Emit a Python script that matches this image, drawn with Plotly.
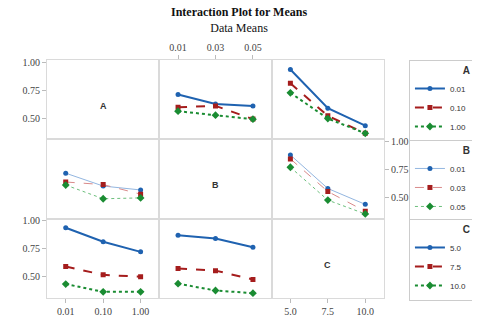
import plotly.graph_objects as go
from plotly.subplots import make_subplots

# factor levels
A_levels = ["0.01", "0.10", "1.00"]
B_levels = ["0.01", "0.03", "0.05"]
C_levels = ["5.0", "7.5", "10.0"]

# row 1: lines = A levels
A_vs_B = [[0.712, 0.626, 0.609], [0.597, 0.609, 0.491], [0.562, 0.526, 0.490]]
A_vs_C = [[0.935, 0.588, 0.432], [0.812, 0.520, 0.364], [0.726, 0.496, 0.364]]
# row 2: lines = B levels
B_vs_A = [[0.717, 0.602, 0.567], [0.638, 0.615, 0.529], [0.611, 0.488, 0.496]]
B_vs_C = [[0.880, 0.580, 0.438], [0.845, 0.553, 0.376], [0.770, 0.476, 0.352]]
# row 3: lines = C levels
C_vs_A = [[0.939, 0.814, 0.723], [0.592, 0.517, 0.500], [0.435, 0.365, 0.365]]
C_vs_B = [[0.872, 0.843, 0.764], [0.575, 0.555, 0.476], [0.438, 0.377, 0.353]]

colors = ["#1f62b0", "#a51d1d", "#1a8c32"]
light = ["#93b6e0", "#d98a8a", "#6cbf7c"]
dashes = ["solid", "dash", "dot"]
symbols = ["circle", "square", "diamond"]

fig = make_subplots(rows=3, cols=3, horizontal_spacing=0, vertical_spacing=0)

panels = [
    # (row, col, data, line levels, x levels, legend, thin)
    (1, 2, A_vs_B, A_levels, B_levels, "legend", False),
    (1, 3, A_vs_C, A_levels, C_levels, None, False),
    (2, 1, B_vs_A, B_levels, A_levels, "legend2", True),
    (2, 3, B_vs_C, B_levels, C_levels, None, True),
    (3, 1, C_vs_A, C_levels, A_levels, "legend3", False),
    (3, 2, C_vs_B, C_levels, B_levels, None, False),
]

for r, c, data, levels, xlev, leg, thin in panels:
    for i, ys in enumerate(data):
        fig.add_trace(go.Scatter(
            x=list(range(len(xlev))), y=ys, name=levels[i],
            mode="lines+markers",
            line=dict(color=light[i] if thin else colors[i],
                      width=1 if thin else 2, dash=dashes[i]),
            marker=dict(color=colors[i], symbol=symbols[i], size=5 if i < 2 else 6),
            showlegend=leg is not None, legend=leg or "legend",
        ), row=r, col=c)

# empty traces so the diagonal panels get drawn
for d in (1, 2, 3):
    fig.add_trace(go.Scatter(x=[], y=[], showlegend=False, hoverinfo="skip"),
                  row=d, col=d)

col_levels = [A_levels, B_levels, C_levels]
tickfont = dict(family="Liberation Serif", size=10, color="#444")
for r in range(1, 4):
    for c in range(1, 4):
        show_x = (r == 3 and c in (1, 3)) or (r == 1 and c == 2)
        fig.update_xaxes(row=r, col=c, range=[-0.5, 2.5],
                         tickvals=list(range(3)), ticktext=col_levels[c - 1],
                         showticklabels=show_x, ticks="outside" if show_x else "",
                         ticklen=4, tickcolor="#bbbbbb", tickfont=tickfont,
                         side="top" if r == 1 else "bottom",
                         showgrid=False, zeroline=False, showline=True, mirror=True,
                         linecolor="#dadada", linewidth=1)
        show_y = (c == 1 and r in (1, 3)) or (r == 2 and c == 3)
        fig.update_yaxes(row=r, col=c, range=[0.31, 1.02], dtick=0.25, tick0=0,
                         tickformat=".2f", showticklabels=show_y,
                         ticks="outside" if show_y else "", ticklen=4,
                         tickcolor="#bbbbbb", tickfont=tickfont,
                         side="right" if r == 2 else "left",
                         showgrid=False, zeroline=False, showline=True, mirror=True,
                         linecolor="#dadada", linewidth=1)

for k, name in zip([1, 5, 9], ["A", "B", "C"]):
    sfx = "" if k == 1 else str(k)
    fig.add_annotation(xref=f"x{sfx} domain", yref=f"y{sfx} domain", x=0.5, y=0.42,
                       text=f"<b>{name}</b>", showarrow=False,
                       font=dict(family="Liberation Sans", size=9, color="#333"))

# title + subtitle in one block so they don't collide
fig.add_annotation(xref="paper", yref="paper", x=0.57, y=1.168, yanchor="middle",
                   text="<b>Interaction Plot for Means</b><br>Data Means",
                   showarrow=False,
                   font=dict(family="Liberation Serif", size=12, color="#111"))

leg_style = dict(xanchor="left", yanchor="top", x=1.074, bgcolor="white",
                 bordercolor="#cccccc", borderwidth=1, tracegroupgap=0,
                 itemwidth=30,
                 font=dict(family="Liberation Sans", size=8, color="#333"))
fig.update_layout(
    # page body has an 8px margin, so the figure is 8px smaller than the window
    width=472, height=312,
    margin=dict(l=39, r=96, t=52, b=22, autoexpand=False),
    plot_bgcolor="white", paper_bgcolor="white",
    legend=dict(y=1.0, title=dict(text="<b>A</b>", side="top right"), **leg_style),
    legend2=dict(y=0.664, title=dict(text="<b>B</b>", side="top right"), **leg_style),
    legend3=dict(y=0.332, title=dict(text="<b>C</b>", side="top right"), **leg_style),
)

fig.write_html("out.html")
